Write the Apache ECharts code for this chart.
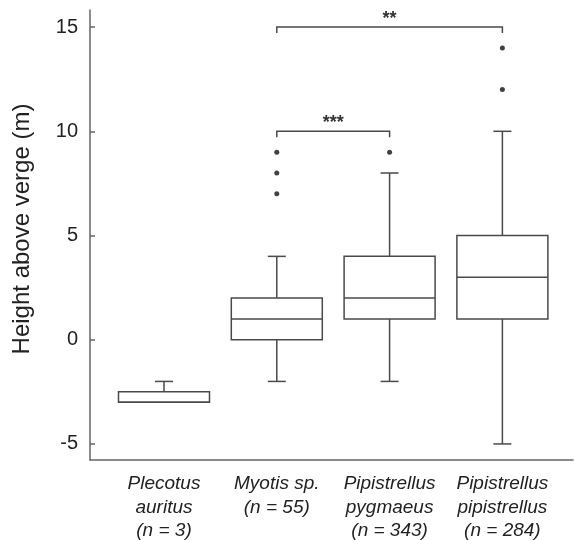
<!DOCTYPE html>
<html>
  <head>
<meta charset="utf-8">
<title>Height above verge</title>
<script src="https://cdn.jsdelivr.net/npm/echarts@6/dist/echarts.min.js"></script>
<style>
  html, body { margin: 0; padding: 0; background: #fff; }
  #main { width: 574px; height: 540px; }
</style>
  </head>
  <body>
    <div id="main"></div>
    <script type="text/javascript">

// categories (x axis labels)
var categories = [
  'Plecotus\nauritus\n(n = 3)',
  'Myotis sp.\n(n = 55)',
  'Pipistrellus\npygmaeus\n(n = 343)',
  'Pipistrellus\npipistrellus\n(n = 284)'
];
// box plot values, one per category
var whiskerLow  = [-3, -2, -2, -5];
var quart1      = [-3,  0,  1,  1];
var median      = [-3,  1,  2,  3];
var quart3      = [-2.5, 2, 4,  5];
var whiskerHigh = [-2,  4,  8, 10];
// outliers: [category index, value]
var outliers = [[1, 7], [1, 8], [1, 9], [2, 9], [3, 12], [3, 14]];
// significance brackets
var bracketFrom  = [1, 1];
var bracketTo    = [3, 2];
var bracketLevel = [15, 10];
var bracketStars = ['**', '***'];
// y tick labels
var yTicks = [-5, 0, 5, 10, 15];

var BOX_W = 91, CAP_W = 18, DROP = 6;
var lineCol = '#4a4a4a';
var font = '"Liberation Sans", Arial, sans-serif';

var boxData = categories.map(function (c, i) {
  return [i, whiskerLow[i], quart1[i], median[i], quart3[i], whiskerHigh[i]];
});
var bracketData = bracketFrom.map(function (f, i) {
  return [f, bracketTo[i], bracketLevel[i], bracketStars[i]];
});

var myChart = echarts.init(document.getElementById('main'));
myChart.setOption({
  animation: false,
  backgroundColor: '#fff',
  grid: { left: 90, right: 1, top: 10, bottom: 80, containLabel: false, outerBoundsMode: 'none' },
  xAxis: {
    type: 'value',
    min: -0.656,
    max: 3.626,
    splitLine: { show: false },
    axisTick: { show: false },
    axisLine: { show: true, onZero: false, lineStyle: { color: '#666', width: 1.5 } },
    axisLabel: {
      customValues: [0, 1, 2, 3],
      formatter: function (v) { return categories[Math.round(v)]; },
      fontStyle: 'italic',
      fontSize: 19,
      lineHeight: 23.5,
      color: '#222',
      fontFamily: font,
      margin: 12
    }
  },
  yAxis: {
    type: 'value',
    min: -5.77,
    max: 15.82,
    name: 'Height above verge (m)',
    nameLocation: 'middle',
    nameGap: 56,
    nameTextStyle: { fontSize: 24, color: '#222', fontFamily: font, padding: [0, 0, 0, 12] },
    splitLine: { show: false },
    axisLine: { show: true, onZero: false, lineStyle: { color: '#666', width: 1.5 } },
    axisTick: { show: true, inside: true, length: 5, customValues: yTicks, lineStyle: { color: '#666', width: 1.5 } },
    axisLabel: { customValues: yTicks, fontSize: 20, color: '#222', fontFamily: font, margin: 12 }
  },
  series: [
    {
      type: 'custom',
      data: boxData,
      renderItem: function (params, api) {
        var x = api.value(0);
        var lo = api.coord([x, api.value(1)]);
        var b1 = api.coord([x, api.value(2)]);
        var md = api.coord([x, api.value(3)]);
        var b3 = api.coord([x, api.value(4)]);
        var hi = api.coord([x, api.value(5)]);
        var cx = lo[0], hw = BOX_W / 2, cw = CAP_W / 2;
        var st = { stroke: lineCol, lineWidth: 1.5, fill: null };
        return {
          type: 'group',
          children: [
            { type: 'line', shape: { x1: cx, y1: hi[1], x2: cx, y2: b3[1] }, style: st },
            { type: 'line', shape: { x1: cx, y1: b1[1], x2: cx, y2: lo[1] }, style: st },
            { type: 'line', shape: { x1: cx - cw, y1: hi[1], x2: cx + cw, y2: hi[1] }, style: st },
            { type: 'line', shape: { x1: cx - cw, y1: lo[1], x2: cx + cw, y2: lo[1] }, style: st },
            { type: 'rect', shape: { x: cx - hw, y: b3[1], width: BOX_W, height: b1[1] - b3[1] },
              style: { fill: '#fff', stroke: lineCol, lineWidth: 1.5 } },
            { type: 'line', shape: { x1: cx - hw, y1: md[1], x2: cx + hw, y2: md[1] }, style: st }
          ]
        };
      }
    },
    {
      type: 'scatter',
      data: outliers,
      symbol: 'circle',
      symbolSize: 5,
      itemStyle: { color: '#111' }
    },
    {
      type: 'custom',
      data: bracketData,
      renderItem: function (params, api) {
        var a = api.coord([api.value(0), api.value(2)]);
        var b = api.coord([api.value(1), api.value(2)]);
        return {
          type: 'group',
          children: [
            { type: 'polyline',
              shape: { points: [[a[0], a[1] + DROP], [a[0], a[1]], [b[0], b[1]], [b[0], b[1] + DROP]] },
              style: { stroke: lineCol, lineWidth: 1.5, fill: null } },
            { type: 'text',
              style: { text: bracketStars[params.dataIndex], x: (a[0] + b[0]) / 2, y: a[1] - 8,
                       align: 'center', verticalAlign: 'middle', fontSize: 18, fontWeight: 'bold',
                       fontFamily: font, fill: '#333' } }
          ]
        };
      }
    }
  ]
});

    </script>
  </body>
</html>
